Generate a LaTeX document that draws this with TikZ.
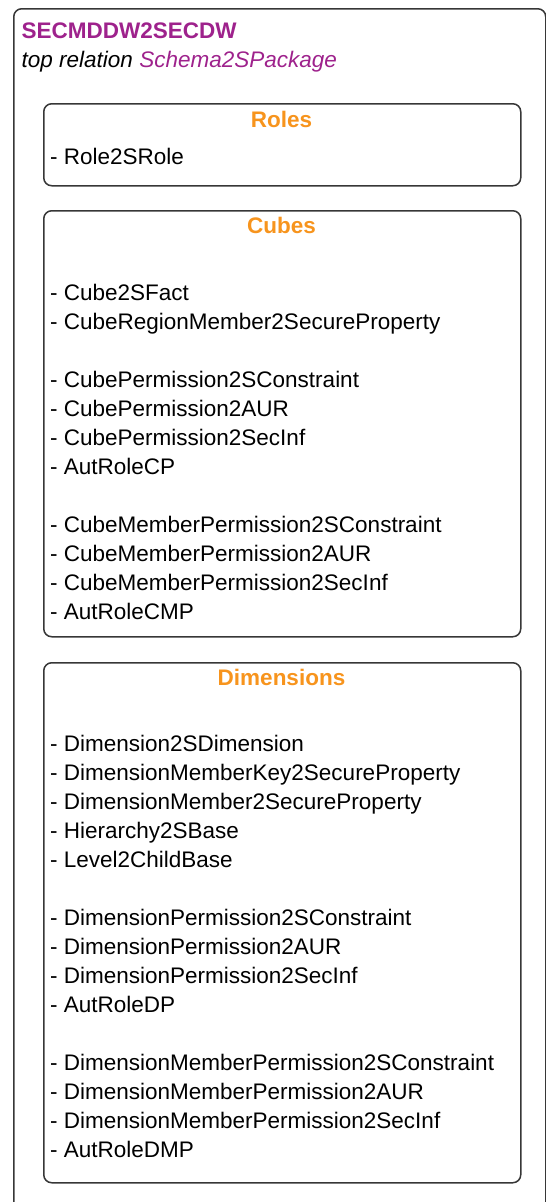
\documentclass[tikz,border=0pt]{standalone}
\usepackage{fontspec}
\setmainfont{Liberation Sans}
\definecolor{relmag}{RGB}{158,34,140}
\definecolor{secorange}{RGB}{247,148,29}
\definecolor{boxline}{RGB}{55,55,55}
\tikzset{
  x=1pt, y=1pt,
  frame/.style={draw=boxline, line width=1.5pt, rounded corners=8pt, inner sep=0pt, anchor=north west},
  item/.style={anchor=base west, inner sep=0pt, font=\fontsize{22.5}{27}\selectfont},
  sectitle/.style={anchor=base, inner sep=0pt, text=secorange, font=\fontsize{22.5}{27}\selectfont\bfseries},
}
\begin{document}
\begin{tikzpicture}
\useasboundingbox (0,0) rectangle (546,-1202);
% outer transformation frame (continues below the visible area)
\node[frame, minimum width=532, minimum height=1230] (outer) at (13,-8) {};
\node[item, text=relmag, font=\fontsize{22.5}{27}\selectfont\bfseries] (name) at (21.5,-38.5) {SECMDDW2SECDW};
\node[item, font=\fontsize{22.5}{27}\selectfont\itshape] (toprel) at (21.5,-67.5) {top relation \textcolor{relmag}{Schema2SPackage}};

% Roles
\node[frame, minimum width=477, minimum height=82] (roles) at (43,-103) {};
\node[sectitle] (rolesT) at (281.5,-127) {Roles};
\node[item] (r1) at (50,-164) {- Role2SRole};

% Cubes
\node[frame, minimum width=477, minimum height=426] (cubes) at (43,-210) {};
\node[sectitle] (cubesT) at (281.5,-233) {Cubes};
\node[item] (c1) at (50,-300) {- Cube2SFact};
\node[item] (c2) at (50,-329) {- CubeRegionMember2SecureProperty};
\node[item] (c3) at (50,-387) {- CubePermission2SConstraint};
\node[item] (c4) at (50,-416) {- CubePermission2AUR};
\node[item] (c5) at (50,-445) {- CubePermission2SecInf};
\node[item] (c6) at (50,-474) {- AutRoleCP};
\node[item] (c7) at (50,-532) {- CubeMemberPermission2SConstraint};
\node[item] (c8) at (50,-561) {- CubeMemberPermission2AUR};
\node[item] (c9) at (50,-590) {- CubeMemberPermission2SecInf};
\node[item] (c10) at (50,-619) {- AutRoleCMP};

% Dimensions
\node[frame, minimum width=477, minimum height=520] (dims) at (43,-662) {};
\node[sectitle] (dimsT) at (281.5,-685) {Dimensions};
\node[item] (d1) at (50,-751) {- Dimension2SDimension};
\node[item] (d2) at (50,-780) {- DimensionMemberKey2SecureProperty};
\node[item] (d3) at (50,-809) {- DimensionMember2SecureProperty};
\node[item] (d4) at (50,-838) {- Hierarchy2SBase};
\node[item] (d5) at (50,-867) {- Level2ChildBase};
\node[item] (d6) at (50,-925) {- DimensionPermission2SConstraint};
\node[item] (d7) at (50,-954) {- DimensionPermission2AUR};
\node[item] (d8) at (50,-983) {- DimensionPermission2SecInf};
\node[item] (d9) at (50,-1012) {- AutRoleDP};
\node[item] (d10) at (50,-1070) {- DimensionMemberPermission2SConstraint};
\node[item] (d11) at (50,-1099) {- DimensionMemberPermission2AUR};
\node[item] (d12) at (50,-1128) {- DimensionMemberPermission2SecInf};
\node[item] (d13) at (50,-1157) {- AutRoleDMP};
\end{tikzpicture}
\end{document}
